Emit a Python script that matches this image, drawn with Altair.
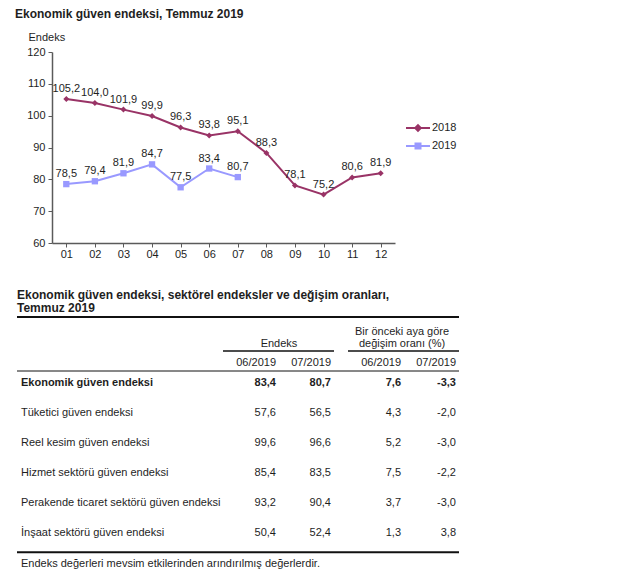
import altair as alt
import pandas as pd

# ---------------- data ----------------
months = ["01", "02", "03", "04", "05", "06", "07", "08", "09", "10", "11", "12"]
series = ["2018", "2019"]
values_2018 = [105.2, 104.0, 101.9, 99.9, 96.3, 93.8, 95.1, 88.3, 78.1, 75.2, 80.6, 81.9]
values_2019 = [78.5, 79.4, 81.9, 84.7, 77.5, 83.4, 80.7]
y_ticks = [60, 70, 80, 90, 100, 110, 120]

indicators = [
    "Ekonomik güven endeksi",
    "Tüketici güven endeksi",
    "Reel kesim güven endeksi",
    "Hizmet sektörü güven endeksi",
    "Perakende ticaret sektörü güven endeksi",
    "İnşaat sektörü güven endeksi",
]
index_06 = [83.4, 57.6, 99.6, 85.4, 93.2, 50.4]
index_07 = [80.7, 56.5, 96.6, 83.5, 90.4, 52.4]
change_06 = [7.6, 4.3, 5.2, 7.5, 3.7, 1.3]
change_07 = [-3.3, -2.0, -3.0, -2.2, -3.0, 3.8]

FONT = "Liberation Sans, Arial, Helvetica, sans-serif"
TXT = "#1e1e1e"
C18 = "#993366"
C19 = "#9999FF"
AX = "#5a5a5a"


def fmt(v):
    return f"{v:.1f}".replace(".", ",")


recs = []
for m, v in zip(months, values_2018):
    recs.append({"ay": m, "seri": "2018", "deger": v, "etiket": fmt(v)})
for m, v in zip(months, values_2019):
    recs.append({"ay": m, "seri": "2019", "deger": v, "etiket": fmt(v)})
line_df = pd.DataFrame(recs)

# ---------------- line chart ----------------
x_enc = alt.X(
    "ay:O",
    scale=alt.Scale(type="point", padding=0.5),
    axis=alt.Axis(title=None, labelAngle=0, domainColor=AX, domainWidth=1.5,
                  tickColor=AX, tickSize=4, labelPadding=1, labelFont=FONT,
                  labelFontSize=11, labelColor=TXT),
)
y_enc = alt.Y(
    "deger:Q",
    scale=alt.Scale(domain=[60, 120], nice=False, zero=False),
    axis=alt.Axis(values=y_ticks, grid=False, title="Endeks", titleAngle=0,
                  titleX=-24, titleY=-15, titleAlign="left", titleBaseline="middle",
                  titleFont=FONT, titleFontSize=11, titleFontWeight="normal",
                  titleColor=TXT, domainColor=AX, domainWidth=1.5, tickColor=AX,
                  tickSize=4, labelPadding=3, labelFont=FONT, labelFontSize=11,
                  labelColor=TXT),
)
color_scale = alt.Scale(domain=series, range=[C18, C19])

legend_paths = [
    "M-1.2,0H1.2M0,-0.28L0.28,0L0,0.28L-0.28,0Z",
    "M-1.2,0H1.2M-0.25,-0.25H0.25V0.25H-0.25Z",
]

legend = alt.Legend(
    title=None, orient="none", legendX=355, legendY=65, padding=0,
    symbolSize=400, rowPadding=0, labelOffset=3, labelFont=FONT,
    labelFontSize=11, labelColor=TXT, symbolOpacity=1, symbolStrokeWidth=2,
)

base = alt.Chart(line_df)
line18 = base.transform_filter("datum.seri == '2018'").mark_line(strokeWidth=2, color=C18).encode(x=x_enc, y=y_enc)
line19 = base.transform_filter("datum.seri == '2019'").mark_line(strokeWidth=2, color=C19).encode(x=x_enc, y=y_enc)
pts18 = base.transform_filter("datum.seri == '2018'").mark_point(
    filled=True, size=36, opacity=1, shape="diamond", color=C18
).encode(x=x_enc, y=y_enc)
pts19 = base.transform_filter("datum.seri == '2019'").mark_point(
    filled=True, size=40, opacity=1, shape="square", color=C19
).encode(x=x_enc, y=y_enc)
# invisible layer that only carries the legend (line + marker symbols)
legend_layer = base.mark_point(filled=False, opacity=0).encode(
    x=x_enc, y=y_enc,
    color=alt.Color("seri:N", scale=color_scale, legend=legend),
    fill=alt.Fill("seri:N", scale=color_scale, legend=legend),
    shape=alt.Shape("seri:N", scale=alt.Scale(domain=series, range=legend_paths), legend=legend),
)
labels = base.mark_text(dy=-10, font=FONT, fontSize=11, color=TXT, baseline="middle").encode(
    x=x_enc, y=y_enc, text="etiket:N"
)

line_chart = alt.layer(line18, line19, pts18, pts19, legend_layer, labels).properties(
    width=343, height=191,
    title=alt.Title("Ekonomik güven endeksi, Temmuz 2019", anchor="start", frame="group",
                    dx=-37, offset=10, font=FONT, fontSize=12, fontWeight="bold", color=TXT),
)

# ---------------- table ----------------
tbl = pd.DataFrame({
    "gosterge": indicators,
    "idx": list(range(len(indicators))),
    "e06": [fmt(v) for v in index_06],
    "e07": [fmt(v) for v in index_07],
    "d06": [fmt(v) for v in change_06],
    "d07": [fmt(v) for v in change_07],
})
row_y = alt.Y("gosterge:N", scale=alt.Scale(type="point", domain=indicators, range=[95.7, 246.3], padding=0), axis=None)


def col_layer(field, xpos, align, bold):
    cond = "datum.idx == 0" if bold else "datum.idx > 0"
    return alt.Chart(tbl).transform_filter(cond).mark_text(
        align=align, baseline="middle", font=FONT, fontSize=11,
        fontWeight="bold" if bold else "normal", color=TXT,
    ).encode(x=alt.value(xpos), y=row_y, text=f"{field}:N")


one = pd.DataFrame({"k": [0]})


def label(text, xpos, ypos, align="left", bold=False, size=11):
    return alt.Chart(one).mark_text(
        text=text, align=align, baseline="middle", font=FONT, fontSize=size,
        fontWeight="bold" if bold else "normal", color=TXT,
    ).encode(x=alt.value(xpos), y=alt.value(ypos))


def rule(x1, x2, ypos, w=1):
    return alt.Chart(one).mark_rule(color="#111111", strokeWidth=w).encode(
        x=alt.value(x1), x2=alt.value(x2), y=alt.value(ypos)
    )


table_layers = [
    label("Ekonomik güven endeksi, sektörel endeksler ve değişim oranları,", -35, 8, bold=True, size=12),
    label("Temmuz 2019", -35, 21, bold=True, size=12),
    rule(-35, 407, 30, 2),
    label("Bir önceki aya göre", 350, 44.7, align="center"),
    label("değişim oranı (%)", 350, 57, align="center"),
    label("Endeks", 227, 57, align="center"),
    rule(171, 282, 64, 1.3),
    rule(296, 407, 64, 1.3),
    label("06/2019", 224, 76, align="right"),
    label("07/2019", 279, 76, align="right"),
    label("06/2019", 349, 76, align="right"),
    label("07/2019", 404, 76, align="right"),
    rule(-35, 407, 84, 1),
    rule(-35, 407, 265.3, 2),
    label("Endeks değerleri mevsim etkilerinden arındırılmış değerlerdir.", -31, 277.3),
]
for bold in (True, False):
    table_layers.append(col_layer("gosterge", -31, "left", bold))
    table_layers.append(col_layer("e06", 224, "right", bold))
    table_layers.append(col_layer("e07", 279, "right", bold))
    table_layers.append(col_layer("d06", 349, "right", bold))
    table_layers.append(col_layer("d07", 404, "right", bold))

table_chart = alt.layer(*table_layers).properties(width=408, height=285)

chart = alt.vconcat(line_chart, table_chart, spacing=28).properties(
    padding={"left": 7, "top": 0, "right": 5, "bottom": 2},
    background="white",
).configure_view(stroke=None)

chart.save("out.html", embed_options={"renderer": "svg", "actions": False})
